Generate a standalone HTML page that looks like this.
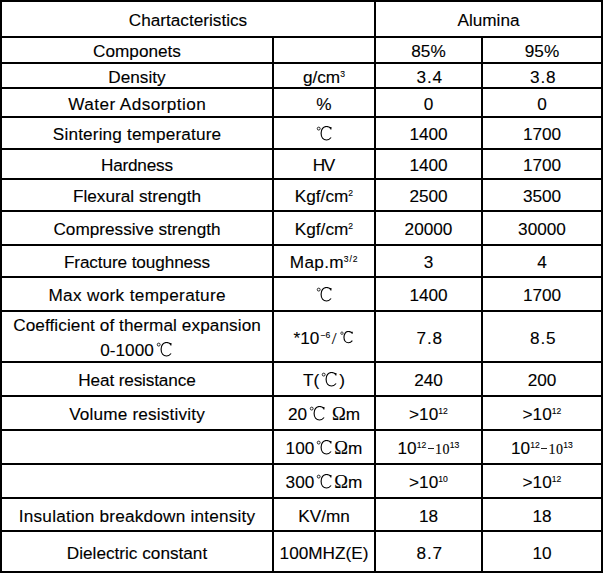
<!DOCTYPE html><html><head><meta charset="utf-8"><style>
html,body{margin:0;padding:0;background:#fff;width:604px;height:575px;overflow:hidden;position:relative}
.l{position:absolute;background:#000}
.t{position:absolute;white-space:nowrap;text-align:center;font-family:"Liberation Sans",sans-serif;font-size:17.2px;line-height:19px;color:#000;height:19px;-webkit-text-stroke:0.12px #000}
.sp{font-size:8.6px;position:relative;top:-5.9px;line-height:0;letter-spacing:0.1px}
.sm{font-family:"Liberation Serif",serif;font-size:14px;letter-spacing:0.3px}
.ds{display:inline-block;width:6px;height:1.3px;background:#222;vertical-align:5px;margin:0 1.5px 0 1.2px}
.om{font-family:"Liberation Serif",serif;font-size:18.5px}
.sl{font-family:"Liberation Serif",serif;margin-left:1.5px;margin-right:1px}
.dc2{display:inline-block;vertical-align:0;position:relative;top:0px}
.dc{display:inline-block;vertical-align:0;position:relative;top:1px}
</style></head><body>

<div class="l" style="left:0;top:0px;width:603px;height:2px"></div>
<div class="l" style="left:0;top:36px;width:603px;height:2px"></div>
<div class="l" style="left:0;top:62px;width:603px;height:2px"></div>
<div class="l" style="left:0;top:87px;width:603px;height:2px"></div>
<div class="l" style="left:0;top:116px;width:603px;height:2px"></div>
<div class="l" style="left:0;top:148px;width:603px;height:2px"></div>
<div class="l" style="left:0;top:178px;width:603px;height:2px"></div>
<div class="l" style="left:0;top:210px;width:603px;height:2px"></div>
<div class="l" style="left:0;top:244px;width:603px;height:2px"></div>
<div class="l" style="left:0;top:276px;width:603px;height:2px"></div>
<div class="l" style="left:0;top:310px;width:603px;height:2px"></div>
<div class="l" style="left:0;top:361px;width:603px;height:2px"></div>
<div class="l" style="left:0;top:395px;width:603px;height:2px"></div>
<div class="l" style="left:0;top:429px;width:603px;height:2px"></div>
<div class="l" style="left:0;top:463px;width:603px;height:2px"></div>
<div class="l" style="left:0;top:497px;width:603px;height:2px"></div>
<div class="l" style="left:0;top:530px;width:603px;height:2px"></div>
<div class="l" style="left:0;top:571px;width:603px;height:2px"></div>
<div class="l" style="left:0;top:0;width:2px;height:573px"></div>
<div class="l" style="left:601px;top:0;width:2px;height:573px"></div>
<div class="l" style="left:374px;top:0;width:2px;height:573px"></div>
<div class="l" style="left:272px;top:36px;width:2px;height:537px"></div>
<div class="l" style="left:481px;top:36px;width:2px;height:537px"></div>
<div class="t" style="left:2px;width:372px;top:11px">Chartacteristics</div>
<div class="t" style="left:376px;width:225px;top:11px">Alumina</div>
<div class="t" style="left:2px;width:270px;top:42px">Componets</div>
<div class="t" style="left:376px;width:105px;top:42px">85%</div>
<div class="t" style="left:483px;width:118px;top:42px">95%</div>
<div class="t" style="left:2px;width:270px;top:68px">Density</div>
<div class="t" style="left:274px;width:100px;top:68px">g/cm<span class="sp">3</span></div>
<div class="t" style="left:376px;width:105px;top:68px;letter-spacing:0.9px;text-indent:0.9px;padding-left:1.6px;box-sizing:border-box">3.4</div>
<div class="t" style="left:483px;width:118px;top:68px;letter-spacing:0.9px;text-indent:0.9px;padding-left:1.6px;box-sizing:border-box">3.8</div>
<div class="t" style="left:2px;width:270px;top:95px;letter-spacing:0.42px;text-indent:0.42px">Water Adsorption</div>
<div class="t" style="left:274px;width:100px;top:95px">%</div>
<div class="t" style="left:376px;width:105px;top:95px">0</div>
<div class="t" style="left:483px;width:118px;top:95px">0</div>
<div class="t" style="left:2px;width:270px;top:125px;letter-spacing:0.15px;text-indent:0.15px">Sintering temperature</div>
<div class="t" style="left:274px;width:100px;top:125px"><svg class="dc" width="20.0" height="15.0" viewBox="0 0 20 15"><circle cx="4.7" cy="2.6" r="1.45" fill="none" stroke="#222" stroke-width="1.0"/><path d="M16.9 3.4 L16.9 1.0 M16.9 2.7 C15.7 1.0 14.2 0.5 12.5 0.5 C9.2 0.5 7.1 3.4 7.1 7.3 C7.1 11.2 9.2 14 12.5 14 C14.5 14 15.9 13 17.1 11.5" fill="none" stroke="#000" stroke-width="1.15"/></svg></div>
<div class="t" style="left:376px;width:105px;top:125px">1400</div>
<div class="t" style="left:483px;width:118px;top:125px">1700</div>
<div class="t" style="left:2px;width:270px;top:156px;letter-spacing:-0.22px;text-indent:-0.22px">Hardness</div>
<div class="t" style="left:274px;width:100px;top:156px;letter-spacing:-1.6px;text-indent:-1.6px">HV</div>
<div class="t" style="left:376px;width:105px;top:156px">1400</div>
<div class="t" style="left:483px;width:118px;top:156px">1700</div>
<div class="t" style="left:2px;width:270px;top:187px">Flexural strength</div>
<div class="t" style="left:274px;width:100px;top:187px">Kgf/cm<span class="sp">2</span></div>
<div class="t" style="left:376px;width:105px;top:187px">2500</div>
<div class="t" style="left:483px;width:118px;top:187px">3500</div>
<div class="t" style="left:2px;width:270px;top:220px">Compressive strength</div>
<div class="t" style="left:274px;width:100px;top:220px">Kgf/cm<span class="sp">2</span></div>
<div class="t" style="left:376px;width:105px;top:220px">20000</div>
<div class="t" style="left:483px;width:118px;top:220px">30000</div>
<div class="t" style="left:2px;width:270px;top:253px;letter-spacing:-0.11px;text-indent:-0.11px">Fracture toughness</div>
<div class="t" style="left:274px;width:100px;top:253px;letter-spacing:0.3px;text-indent:0.3px">Map.m<span class="sp" style="letter-spacing:0.9px">3/2</span></div>
<div class="t" style="left:376px;width:105px;top:253px">3</div>
<div class="t" style="left:483px;width:118px;top:253px">4</div>
<div class="t" style="left:2px;width:270px;top:286px;letter-spacing:0.33px;text-indent:0.33px">Max work temperature</div>
<div class="t" style="left:274px;width:100px;top:286px"><svg class="dc" width="20.0" height="15.0" viewBox="0 0 20 15"><circle cx="4.7" cy="2.6" r="1.45" fill="none" stroke="#222" stroke-width="1.0"/><path d="M16.9 3.4 L16.9 1.0 M16.9 2.7 C15.7 1.0 14.2 0.5 12.5 0.5 C9.2 0.5 7.1 3.4 7.1 7.3 C7.1 11.2 9.2 14 12.5 14 C14.5 14 15.9 13 17.1 11.5" fill="none" stroke="#000" stroke-width="1.15"/></svg></div>
<div class="t" style="left:376px;width:105px;top:286px">1400</div>
<div class="t" style="left:483px;width:118px;top:286px">1700</div>
<div class="t" style="left:2px;width:270px;top:316px;letter-spacing:0.08px;text-indent:0.08px">Coefficient of thermal expansion</div>
<div class="t" style="left:2px;width:270px;top:341px">0-1000<svg class="dc" width="20.0" height="15.0" viewBox="0 0 20 15"><circle cx="4.7" cy="2.6" r="1.45" fill="none" stroke="#222" stroke-width="1.0"/><path d="M16.9 3.4 L16.9 1.0 M16.9 2.7 C15.7 1.0 14.2 0.5 12.5 0.5 C9.2 0.5 7.1 3.4 7.1 7.3 C7.1 11.2 9.2 14 12.5 14 C14.5 14 15.9 13 17.1 11.5" fill="none" stroke="#000" stroke-width="1.15"/></svg></div>
<div class="t" style="left:274px;width:100px;top:329px">*1<span style="letter-spacing:1px">0</span><span class="sp">&minus;6</span><span class="sl">/</span><svg class="dc2" width="16.8" height="12.6" viewBox="0 0 20 15"><circle cx="4.7" cy="2.6" r="1.45" fill="none" stroke="#222" stroke-width="1.0"/><path d="M16.9 3.4 L16.9 1.0 M16.9 2.7 C15.7 1.0 14.2 0.5 12.5 0.5 C9.2 0.5 7.1 3.4 7.1 7.3 C7.1 11.2 9.2 14 12.5 14 C14.5 14 15.9 13 17.1 11.5" fill="none" stroke="#000" stroke-width="1.37"/></svg></div>
<div class="t" style="left:376px;width:105px;top:329px;letter-spacing:0.9px;text-indent:0.9px;padding-left:1.6px;box-sizing:border-box">7.8</div>
<div class="t" style="left:483px;width:118px;top:329px;letter-spacing:0.9px;text-indent:0.9px;padding-left:1.6px;box-sizing:border-box">8.5</div>
<div class="t" style="left:2px;width:270px;top:371px;letter-spacing:-0.14px;text-indent:-0.14px">Heat resistance</div>
<div class="t" style="left:274px;width:100px;top:371px">T(<svg class="dc" width="20.0" height="15.0" viewBox="0 0 20 15"><circle cx="4.7" cy="2.6" r="1.45" fill="none" stroke="#222" stroke-width="1.0"/><path d="M16.9 3.4 L16.9 1.0 M16.9 2.7 C15.7 1.0 14.2 0.5 12.5 0.5 C9.2 0.5 7.1 3.4 7.1 7.3 C7.1 11.2 9.2 14 12.5 14 C14.5 14 15.9 13 17.1 11.5" fill="none" stroke="#000" stroke-width="1.15"/></svg>)</div>
<div class="t" style="left:376px;width:105px;top:371px">240</div>
<div class="t" style="left:483px;width:118px;top:371px">200</div>
<div class="t" style="left:2px;width:270px;top:405px;letter-spacing:0.17px;text-indent:0.17px">Volume resistivity</div>
<div class="t" style="left:274px;width:100px;top:405px">20<svg class="dc" width="20.0" height="15.0" viewBox="0 0 20 15"><circle cx="4.7" cy="2.6" r="1.45" fill="none" stroke="#222" stroke-width="1.0"/><path d="M16.9 3.4 L16.9 1.0 M16.9 2.7 C15.7 1.0 14.2 0.5 12.5 0.5 C9.2 0.5 7.1 3.4 7.1 7.3 C7.1 11.2 9.2 14 12.5 14 C14.5 14 15.9 13 17.1 11.5" fill="none" stroke="#000" stroke-width="1.15"/></svg> <span class="om">&Omega;</span>m</div>
<div class="t" style="left:376px;width:105px;top:405px">>10<span class="sp">12</span></div>
<div class="t" style="left:483px;width:118px;top:405px">>10<span class="sp">12</span></div>
<div class="t" style="left:274px;width:100px;top:439px">100<svg class="dc" width="20.0" height="15.0" viewBox="0 0 20 15"><circle cx="4.7" cy="2.6" r="1.45" fill="none" stroke="#222" stroke-width="1.0"/><path d="M16.9 3.4 L16.9 1.0 M16.9 2.7 C15.7 1.0 14.2 0.5 12.5 0.5 C9.2 0.5 7.1 3.4 7.1 7.3 C7.1 11.2 9.2 14 12.5 14 C14.5 14 15.9 13 17.1 11.5" fill="none" stroke="#000" stroke-width="1.15"/></svg><span class="om">&Omega;</span>m</div>
<div class="t" style="left:376px;width:105px;top:439px">10<span class="sp">12</span><span class="ds"></span><span class="sm">10</span><span class="sp">13</span></div>
<div class="t" style="left:483px;width:118px;top:439px">10<span class="sp">12</span><span class="ds"></span><span class="sm">10</span><span class="sp">13</span></div>
<div class="t" style="left:274px;width:100px;top:473px">300<svg class="dc" width="20.0" height="15.0" viewBox="0 0 20 15"><circle cx="4.7" cy="2.6" r="1.45" fill="none" stroke="#222" stroke-width="1.0"/><path d="M16.9 3.4 L16.9 1.0 M16.9 2.7 C15.7 1.0 14.2 0.5 12.5 0.5 C9.2 0.5 7.1 3.4 7.1 7.3 C7.1 11.2 9.2 14 12.5 14 C14.5 14 15.9 13 17.1 11.5" fill="none" stroke="#000" stroke-width="1.15"/></svg><span class="om">&Omega;</span>m</div>
<div class="t" style="left:376px;width:105px;top:473px">>10<span class="sp">10</span></div>
<div class="t" style="left:483px;width:118px;top:473px">>10<span class="sp">12</span></div>
<div class="t" style="left:2px;width:270px;top:507px;letter-spacing:0.21px;text-indent:0.21px">Insulation breakdown intensity</div>
<div class="t" style="left:274px;width:100px;top:507px">KV/mn</div>
<div class="t" style="left:376px;width:105px;top:507px">18</div>
<div class="t" style="left:483px;width:118px;top:507px">18</div>
<div class="t" style="left:2px;width:270px;top:544px">Dielectric constant</div>
<div class="t" style="left:274px;width:100px;top:544px">100MHZ(E)</div>
<div class="t" style="left:376px;width:105px;top:544px;letter-spacing:0.9px;text-indent:0.9px;padding-left:1.6px;box-sizing:border-box">8.7</div>
<div class="t" style="left:483px;width:118px;top:544px">10</div>
</body></html>
